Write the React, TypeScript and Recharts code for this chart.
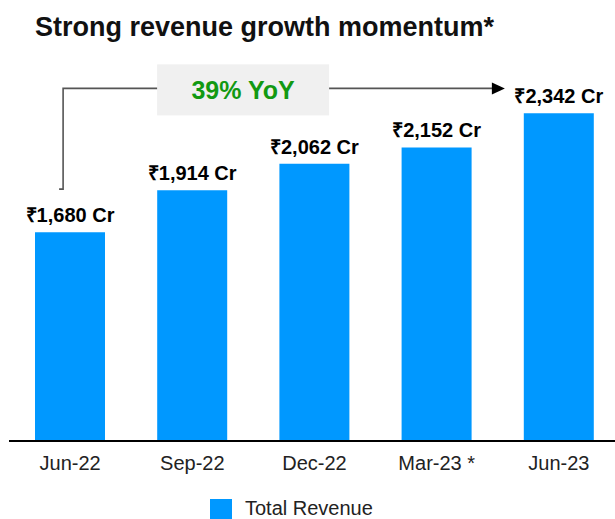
import { BarChart, Bar, XAxis, YAxis, LabelList, Legend, ReferenceLine } from 'recharts'

const quarters = ['Jun-22', 'Sep-22', 'Dec-22', 'Mar-23 *', 'Jun-23']
const revenue = [1680, 1914, 2062, 2152, 2342]
const growthLabel = '39% YoY'
// bracket ends, in revenue units on the same axis
const bracketLow = 1920
const bracketHigh = 2481

const BLUE = '#0098FF'
const FONT = '"Liberation Sans", Arial, sans-serif'

const data = quarters.map((q, i) => ({ name: q, revenue: revenue[i] }))

const fmt = (v: number) => `₹${String(v).replace(/\B(?=(\d{3})+(?!\d))/g, ',')} Cr`

function Bracket(props: any) {
  const { x1, y1, x2, y2 } = props
  const left = x1 - 7
  const tip = x2 - 54
  const boxX = left + 94
  return (
    <g>
      <path
        d={`M${left - 4},${y1} L${left},${y1} L${left},${y2} L${tip - 12},${y2}`}
        fill="none"
        stroke="#555"
        strokeWidth={1.6}
      />
      <polygon points={`${tip},${y2} ${tip - 13},${y2 - 6} ${tip - 13},${y2 + 6}`} fill="#000" />
      <rect x={boxX} y={y2 - 24} width={172} height={51} fill="#f0f0f0" />
      <text
        x={boxX + 86}
        y={y2 + 11}
        textAnchor="middle"
        fontFamily={FONT}
        fontWeight="bold"
        fontSize={25}
        fill="#129912"
      >
        {growthLabel}
      </text>
    </g>
  )
}

function ValueLabel(props: any) {
  const { x, y, width, value } = props
  return (
    <text
      x={x + width / 2}
      y={y - 10}
      textAnchor="middle"
      fontFamily={FONT}
      fontWeight="bold"
      fontSize={20}
      fill="#000"
    >
      {fmt(Number(value))}
    </text>
  )
}

function LegendContent() {
  return (
    <div style={{ display: 'flex', alignItems: 'center', fontFamily: FONT, fontSize: 20, color: '#222' }}>
      <span style={{ display: 'inline-block', width: 22, height: 20, background: BLUE, marginRight: 13 }} />
      <span>Total Revenue</span>
    </div>
  )
}

export default function App() {
  return (
    <div style={{ position: 'absolute', left: 0, top: 0, width: 615, height: 519, overflow: 'hidden', background: '#fff' }}>
      <div
        style={{
          position: 'absolute',
          left: 35,
          top: 14,
          fontFamily: FONT,
          fontWeight: 'bold',
          fontSize: 27,
          lineHeight: '27px',
          color: '#111',
          whiteSpace: 'nowrap',
        }}
      >
        Strong revenue growth momentum*
      </div>
      <BarChart width={630} height={519} data={data} margin={{ top: 67, right: 10, bottom: 48, left: 9 }}>
        <XAxis
          dataKey="name"
          height={30}
          tickLine={false}
          axisLine={{ stroke: '#000', strokeWidth: 2 }}
          tickMargin={9}
          tick={{ fontSize: 20, fill: '#222', fontFamily: FONT }}
          interval={0}
        />
        <YAxis hide domain={[518, 2600]} type="number" allowDataOverflow />
        <Bar dataKey="revenue" fill={BLUE} barSize={70} isAnimationActive={false}>
          <LabelList dataKey="revenue" content={(p: any) => <ValueLabel {...p} />} />
        </Bar>
        <ReferenceLine
          segment={[
            { x: quarters[0], y: bracketLow },
            { x: quarters[quarters.length - 1], y: bracketHigh },
          ]}
          shape={(p: any) => <Bracket {...p} />}
          ifOverflow="visible"
        />
        <Legend
          layout="horizontal"
          verticalAlign="middle"
          align="center"
          content={() => <LegendContent />}
          wrapperStyle={{ position: 'absolute', top: 497, left: 210, width: 'auto' }}
        />
      </BarChart>
    </div>
  )
}
